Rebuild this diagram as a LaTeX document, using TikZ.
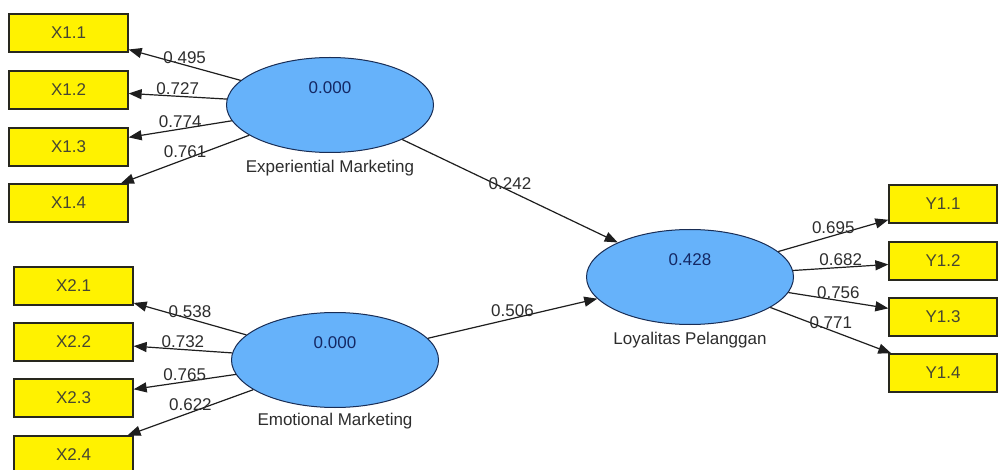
\documentclass[tikz,border=0pt]{standalone}
\usepackage{fontspec}
\setmainfont{Liberation Sans}
\usetikzlibrary{arrows.meta, shapes.geometric}
\definecolor{lvblue}{RGB}{102,178,250}
\definecolor{ovalline}{RGB}{25,45,85}
\definecolor{valblue}{RGB}{20,40,100}
\definecolor{boxline}{RGB}{40,40,30}
\definecolor{boxtext}{RGB}{70,70,50}
\definecolor{linegray}{RGB}{30,30,30}
\definecolor{labelgray}{RGB}{45,45,45}

\begin{document}
\begin{tikzpicture}[x=1pt, y=-1pt,
  font=\fontsize{17}{20}\selectfont,
  indicator/.style={draw=boxline, fill=yellow, line width=1.3pt, minimum width=119pt, minimum height=38pt, inner sep=0pt, text=boxtext},
  latent/.style={ellipse, draw=ovalline, fill=lvblue, line width=1pt, minimum width=207pt, minimum height=95pt, inner sep=0pt},
  link/.style={draw=linegray, line width=1.2pt, -{Triangle[length=13pt,width=10pt]}},
  coef/.style={above, inner sep=1pt, text=labelgray}]
\path[use as bounding box, fill=white] (0,0) rectangle (998,470);

\node[latent, label={[text=valblue, yshift=17pt]center:0.000}, label={[label distance=4pt, text=labelgray]below:Experiential Marketing}] (exp) at (330,105) {};
\node[latent, label={[text=valblue, yshift=17pt]center:0.000}, label={[label distance=2pt, text=labelgray]below:Emotional Marketing}] (emo) at (335,360) {};
\node[latent, label={[text=valblue, yshift=17pt]center:0.428}, label={[label distance=4pt, text=labelgray]below:Loyalitas Pelanggan}] (loy) at (690,277) {};

\node[indicator] (x11) at (68.5,33) {X1.1};
\node[indicator] (x12) at (68.5,90) {X1.2};
\node[indicator] (x13) at (68.5,147) {X1.3};
\node[indicator] (x14) at (68.5,203) {X1.4};
\node[indicator] (x21) at (73.5,286) {X2.1};
\node[indicator] (x22) at (73.5,342) {X2.2};
\node[indicator] (x23) at (73.5,398) {X2.3};
\node[indicator] (x24) at (73.5,455) {X2.4};
\node[indicator, minimum width=108pt] (y11) at (943,204) {Y1.1};
\node[indicator, minimum width=108pt] (y12) at (943,261) {Y1.2};
\node[indicator, minimum width=108pt] (y13) at (943,317) {Y1.3};
\node[indicator, minimum width=108pt] (y14) at (943,373) {Y1.4};

\draw[link] (exp) -- node[coef] {0.495} (x11);
\draw[link] (exp) -- node[coef] {0.727} (x12);
\draw[link] (exp) -- node[coef] {0.774} (x13);
\draw[link] (exp) -- node[coef] {0.761} (x14);
\draw[link] (emo) -- node[coef] {0.538} (x21);
\draw[link] (emo) -- node[coef] {0.732} (x22);
\draw[link] (emo) -- node[coef] {0.765} (x23);
\draw[link] (emo) -- node[coef] {0.622} (x24);
\draw[link] (exp) -- node[coef] {0.242} (loy);
\draw[link] (emo) -- node[coef] {0.506} (loy);
\draw[link] (loy) -- node[coef] {0.695} (y11);
\draw[link] (loy) -- node[coef] {0.682} (y12);
\draw[link] (loy) -- node[coef] {0.756} (y13);
\draw[link] (loy) -- node[coef] {0.771} (y14);
\end{tikzpicture}
\end{document}
